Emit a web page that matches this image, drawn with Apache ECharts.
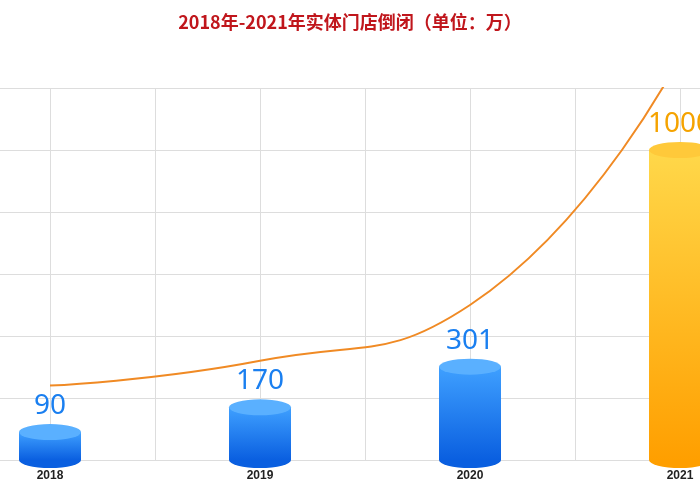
<!DOCTYPE html><html><head><meta charset="utf-8">
<script src="https://cdn.jsdelivr.net/npm/echarts@6/dist/echarts.min.js"></script>
<style>html,body{margin:0;background:#fff}#c{width:700px;height:500px}</style></head><body><div id="c"></div>
<script>
const categories=['2018','2019','2020','2021'];
const closures=[90,170,301,1000];
const trend=[240,320,500,1300];
const chart=echarts.init(document.getElementById('c'));
const blue={type:'linear',x:0,y:0,x2:0,y2:1,colorStops:[{offset:0,color:'#3fa0ff'},{offset:1,color:'#0a5fe0'}]};
const orange={type:'linear',x:0,y:0,x2:0,y2:1,colorStops:[{offset:0,color:'#ffd84a'},{offset:1,color:'#ff9f00'}]};
const col=i=>i===3?orange:blue;
const hid={axisLabel:{show:false},axisLine:{show:false},axisTick:{show:false}};
chart.setOption({
title:{text:'2018年-2021年实体门店倒闭（单位：万）',left:'center',top:8,textStyle:{color:'#c0161c',fontSize:18,fontWeight:'bold',fontFamily:'Noto Sans CJK SC'}},
grid:[{left:50,right:20,top:88,bottom:40},{left:0,right:0,top:88,bottom:40}],
xAxis:[{type:'category',gridIndex:0,data:categories,boundaryGap:false,axisLine:{show:false},axisTick:{show:false},axisLabel:{color:'#222',fontWeight:'bold',fontSize:12,margin:10}},
{type:'value',gridIndex:0,min:0,max:3,interval:0.5,...hid,splitLine:{lineStyle:{color:'#ddd'}}},
{type:'value',gridIndex:1,min:0,max:1,...hid,splitLine:{show:false}}],
yAxis:[{type:'value',gridIndex:0,min:0,max:1200,interval:200,...hid,splitLine:{show:false}},
{type:'value',gridIndex:1,min:0,max:1200,interval:200,...hid,splitLine:{lineStyle:{color:'#ddd'}}}],
series:[
{type:'bar',data:closures.map((v,i)=>({value:v,itemStyle:{color:col(i)},label:i===3?{color:'#f5a300'}:{}})),barWidth:62,z:2,
 label:{show:true,position:'top',distance:12,fontSize:28,fontFamily:'Noto Sans',color:'#1a7ff0'}},
{type:'pictorialBar',symbol:'circle',symbolSize:[62,16],symbolOffset:[0,-8],symbolPosition:'end',z:3,
 data:closures.map((v,i)=>({value:v,itemStyle:{color:i===3?'#ffc93a':'#5ab0ff'}}))},
{type:'pictorialBar',symbol:'circle',symbolSize:[62,16],symbolOffset:[0,8],symbolPosition:'start',z:1,
 data:closures.map((v,i)=>({value:v,itemStyle:{color:i===3?'#ff9f00':'#0a5fe0'}}))},
{type:'line',data:trend,smooth:true,showSymbol:false,clip:false,z:5,lineStyle:{color:'#f08a24',width:2}}
]});
</script></body></html>
